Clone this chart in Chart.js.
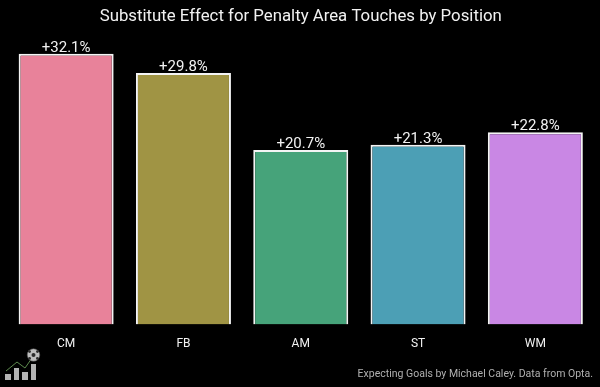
<!DOCTYPE html>
<html>
<head>
<meta charset="utf-8">
<title>Substitute Effect</title>
<script src="https://cdn.jsdelivr.net/npm/chart.js@4/dist/chart.umd.min.js"></script>
<style>
  html, body { margin: 0; padding: 0; background: #000; }
  #wrap { position: relative; width: 600px; height: 387px; overflow: hidden; }
  #logo { position: absolute; left: 0; top: 348px; }
  #chart { display: block; }
</style>
</head>
<body>
<div id="wrap">
  <canvas id="chart" width="600" height="387"></canvas>
  <svg id="logo" width="42" height="34" viewBox="0 0 42 34">
    <g fill="#b3b3b3">
      <rect x="5" y="26" width="6" height="6"/>
      <rect x="14" y="20" width="5" height="12"/>
      <rect x="22" y="24" width="6" height="8"/>
      <rect x="31" y="16" width="5" height="16"/>
    </g>
    <polyline points="6,23 17,14 25,20 32,10" fill="none" stroke="#5d8a4e" stroke-width="1"/>
    <circle cx="33.5" cy="7" r="6.3" fill="#bdbdbd" stroke="#444" stroke-width="0.6"/>
    <circle cx="33.5" cy="7" r="2" fill="#2c2c2c"/>
    <circle cx="29.6" cy="3.6" r="1.4" fill="#2c2c2c"/>
    <circle cx="37.4" cy="3.6" r="1.4" fill="#2c2c2c"/>
    <circle cx="29.6" cy="10.4" r="1.4" fill="#2c2c2c"/>
    <circle cx="37.4" cy="10.4" r="1.4" fill="#2c2c2c"/>
  </svg>
</div>
<script>
// Data
const positions = ["CM", "FB", "AM", "ST", "WM"];
const effects = [32.1, 29.8, 20.7, 21.3, 22.8];
const barColors = ["#e8829a", "#a09444", "#46a37a", "#4c9fb5", "#c987e4"];
const chartTitle = "Substitute Effect for Penalty Area Touches by Position";
const credit = "Expecting Goals by Michael Caley. Data from Opta.";

// Labels above the bars and credit line
const annotate = {
  id: "annotate",
  afterDatasetsDraw(chart) {
    const c = chart.ctx;
    c.save();
    c.fillStyle = "#f2f2f2";
    c.font = "15px Roboto";
    c.textAlign = "center";
    c.textBaseline = "alphabetic";
    chart.getDatasetMeta(0).data.forEach((bar, i) => {
      c.fillText("+" + effects[i].toFixed(1) + "%", bar.x, bar.y - 2);
    });
    c.fillStyle = "#b0b0b0";
    c.font = "10.5px Roboto";
    c.textAlign = "right";
    c.fillText(credit, 593, 377);
    c.restore();
  }
};

new Chart(document.getElementById("chart"), {
  type: "bar",
  data: {
    labels: positions,
    datasets: [{
      data: effects,
      backgroundColor: barColors,
      borderColor: "#f4f4f4",
      borderWidth: 2,
      barPercentage: 1,
      categoryPercentage: 0.81
    }]
  },
  options: {
    responsive: false,
    animation: false,
    layout: { padding: { left: 7.5, right: 6, top: 0, bottom: 32 } },
    plugins: {
      legend: { display: false },
      tooltip: { enabled: false },
      title: {
        display: true,
        text: chartTitle,
        color: "#f2f2f2",
        font: { family: "Roboto", size: 16.8, weight: "normal" },
        padding: { top: 7, bottom: 13 }
      }
    },
    scales: {
      x: {
        grid: { display: false },
        border: { display: false },
        ticks: { color: "#f2f2f2", font: { family: "Roboto", size: 12 }, padding: 4, maxRotation: 0 }
      },
      y: { display: false, min: 0, max: 33.7 }
    }
  },
  plugins: [annotate]
});
</script>
</body>
</html>
